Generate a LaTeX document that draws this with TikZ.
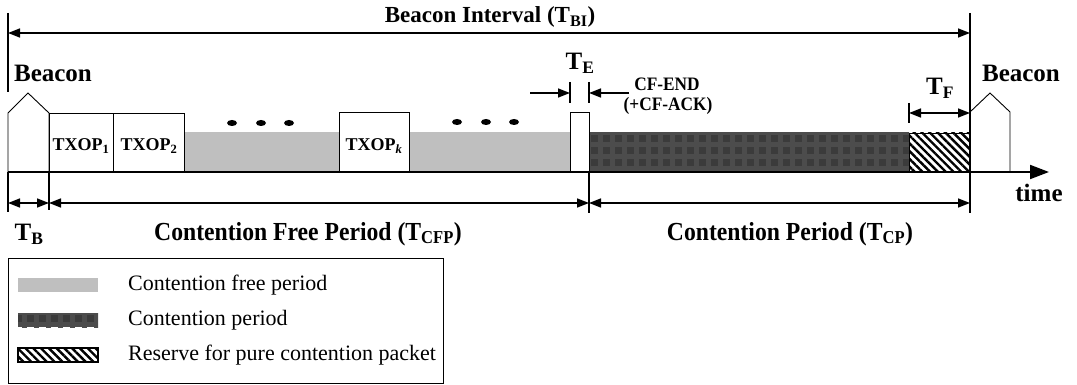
\documentclass[tikz,border=0pt]{standalone}
\usepackage{fontspec}
\setmainfont{Liberation Serif}
\newfontfamily\condserif{Liberation Serif}[FakeStretch=0.91]
\usetikzlibrary{arrows.meta,patterns.meta}
\begin{document}
\begin{tikzpicture}[x=1pt,y=-1pt,
  lbl/.style={font=\bfseries\fontsize{23}{23}\selectfont, inner sep=0pt},
  big/.style={font=\condserif\bfseries\fontsize{26}{26}\selectfont, inner sep=0pt},
  bcn/.style={font=\bfseries\fontsize{25}{25}\selectfont, inner sep=0pt},
  txop/.style={font=\bfseries\fontsize{18}{18}\selectfont, inner sep=0pt},
  small/.style={font=\condserif\bfseries\fontsize{19}{19}\selectfont, inner sep=0pt},
  legtext/.style={font=\fontsize{22}{22}\selectfont, inner sep=0pt, anchor=west},
  box/.style={draw=black, line width=0.8pt, fill=white},
  dim/.style={line width=1.5pt, {Triangle[length=12pt,width=9pt]}-{Triangle[length=12pt,width=9pt]}},
  dimr/.style={line width=1.5pt, -{Triangle[length=12pt,width=9pt]}},
  tick/.style={line width=1.3pt},
  cfp/.style={fill=gray!50},
  cp/.style={fill=black!77},
  cpgrid/.style={pattern={Hatch[angle=0,distance=12pt,line width=5pt]}, pattern color=black!70},
  res/.style={pattern={Lines[angle=-45,distance=5.5pt,line width=2.4pt]}},
  blob/.style={fill=black},
  bshape/.style={draw=black, line width=0.9pt}
]
\useasboundingbox (0,0) rectangle (1077,385);

% shaded regions
\fill[cfp] (184,132) rectangle (339,172);
\fill[cfp] (409,132) rectangle (570,172);
\fill[cp] (589,133) rectangle (909,172);
\fill[cpgrid] (589,133) rectangle (909,172);
\fill[res] (909,133) rectangle (970,172);
\draw[line width=0.9pt] (909,133) rectangle (970,172);

% boxes
\draw[box] (49,113) rectangle (113,172);
\draw[box] (113,113) rectangle (184,172);
\draw[box] (339,112) rectangle (409,172);
\draw[box] (570,112) rectangle (589,172);
\node[txop] (tx1) at (81,146) {TXOP\textsubscript{1}};
\node[txop] (tx2) at (149,146) {TXOP\textsubscript{2}};
\node[txop] (txk) at (374,146) {TXOP\textsubscript{\textit{k}}};

% dots
\foreach \x in {232,261,289} \fill[blob] (\x,123) ellipse (5 and 3);
\foreach \x in {457,486,514} \fill[blob] (\x,122) ellipse (5 and 3);

% beacons
\draw[bshape] (8,172) -- (8,113) -- (28,93) -- (49,113) -- (49,172);
\draw[bshape] (970,172) -- (970,112) -- (990,93) -- (1010,112) -- (1010,172);

% time axis
\coordinate (t0) at (8,172);
\coordinate (t1) at (1049,172);
\draw[line width=2pt, -{Triangle[length=19pt,width=14pt]}] (t0) -- (t1);
\node[bcn] (time) at (1039,193) {time};

% vertical lines
\draw[tick] (8,13) -- (8,92);
\draw[tick] (8,172) -- (8,212);
\draw[tick] (970,13) -- (970,73);
\draw[tick] (970,112) -- (970,213);
\draw[tick] (49,172) -- (49,210);
\draw[tick] (589,172) -- (589,213);

% beacon interval
\coordinate (bi0) at (8,33);
\coordinate (bi1) at (970,33);
\draw[dim] (bi0) -- (bi1);
\node[lbl] (bil) at (490,17) {Beacon Interval (T\textsubscript{BI})};

\node[bcn] (bcnl) at (53,73) {Beacon};
\node[bcn] (bcnr) at (1021,73) {Beacon};

% T_E
\draw[tick] (570,82) -- (570,103);
\draw[tick] (589,82) -- (589,103);
\coordinate (te0) at (530,93);
\coordinate (te1) at (570,93);
\coordinate (te2) at (629,93);
\coordinate (te3) at (589,93);
\draw[dimr] (te0) -- (te1);
\draw[dimr] (te2) -- (te3);
\node[bcn] (tel) at (580,63) {T\textsubscript{E}};
\node[small] (cfend) at (667,84) {CF-END};
\node[small] (cfack) at (668,106) {(+CF-ACK)};

% T_F
\draw[tick] (909,103) -- (909,123);
\draw[tick] (970,73) -- (970,123);
\coordinate (tf0) at (909,113);
\coordinate (tf1) at (970,113);
\draw[dim] (tf0) -- (tf1);
\node[bcn] (tfl) at (940,88) {T\textsubscript{F}};

% bottom dimension lines
\coordinate (b0) at (8,203);
\coordinate (b1) at (49,203);
\coordinate (b2) at (589,203);
\coordinate (b3) at (970,203);
\draw[dim] (b0) -- (b1);
\draw[dim] (b1) -- (b2);
\draw[dim] (b2) -- (b3);
\node[bcn] (tbl) at (29,234) {T\textsubscript{B}};
\node[big] (cfpl) at (308,234) {Contention Free Period (T\textsubscript{CFP})};
\node[big] (cpl) at (790,234) {Contention Period (T\textsubscript{CP})};

% legend
\draw[line width=0.8pt] (8,258) rectangle (443,383);
\fill[cfp] (18,278) rectangle (98,292);
\fill[cp] (18,313) rectangle (98,327);
\fill[cpgrid] (18,313) rectangle (98,327);
\fill[res] (18,348) rectangle (98,362);
\draw[line width=1.2pt] (18,348) rectangle (98,362);
\node[legtext] (lg1) at (128,285) {Contention free period};
\node[legtext] (lg2) at (128,320) {Contention period};
\node[legtext] (lg3) at (128,355) {Reserve for pure contention packet};
\end{tikzpicture}
\end{document}
